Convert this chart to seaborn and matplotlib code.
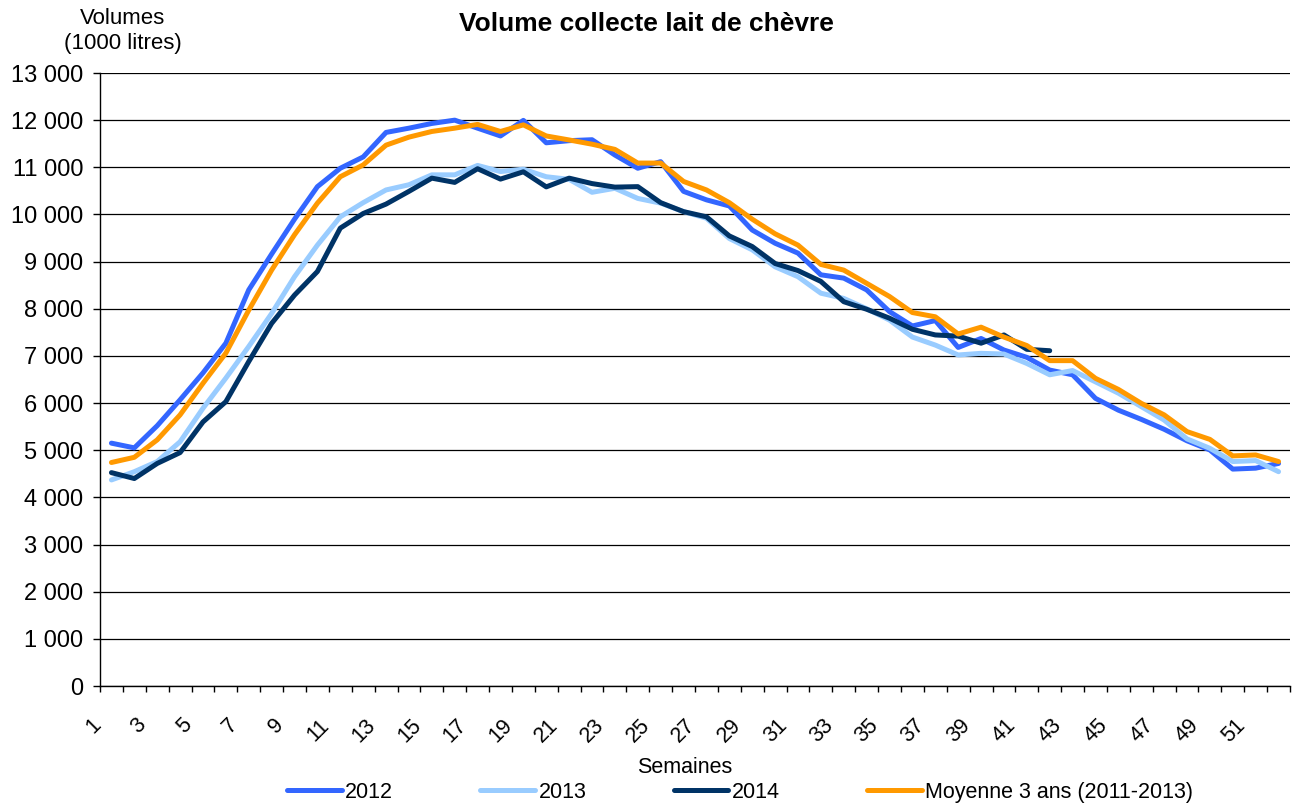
#!/usr/bin/env python3

import numpy as np
import pandas as pd
import matplotlib
matplotlib.use("Agg")
import matplotlib.pyplot as plt
import matplotlib.transforms as mtransforms
from matplotlib.lines import Line2D
from matplotlib.ticker import FixedLocator, FuncFormatter, NullFormatter
import seaborn as sns

# Weekly goat milk collection volumes (1000 litres)
weeks = list(range(1, 53))
vol_2012 = [5150, 5050, 5520, 6070, 6640, 7270, 8400, 9160, 9900, 10590,
            10980, 11220, 11740, 11830, 11930, 12000, 11830, 11665, 11995, 11520,
            11565, 11585, 11260, 10980, 11120, 10490, 10310, 10180, 9670, 9390,
            9180, 8720, 8650, 8400, 7940, 7635, 7750, 7180, 7370, 7125,
            6970, 6700, 6600, 6100, 5850, 5655, 5445, 5200, 5005, 4600,
            4620, 4720]
vol_2013 = [4370, 4545, 4760, 5180, 5890, 6530, 7200, 7900, 8680, 9350,
            9950, 10250, 10520, 10630, 10840, 10840, 11040, 10910, 10960, 10800,
            10745, 10470, 10555, 10340, 10240, 10060, 9920, 9490, 9250, 8890,
            8680, 8330, 8220, 8000, 7760, 7400, 7230, 7020, 7055, 7040,
            6840, 6600, 6690, 6450, 6210, 5925, 5640, 5240, 5040, 4760,
            4780, 4545]
vol_2014 = [4525, 4400, 4720, 4950, 5600, 6030, 6880, 7690, 8290, 8790,
            9710, 10020, 10220, 10490, 10770, 10680, 10970, 10750, 10905, 10585,
            10770, 10655, 10580, 10590, 10250, 10060, 9950, 9545, 9320, 8960,
            8810, 8580, 8150, 7990, 7800, 7565, 7445, 7420, 7270, 7445,
            7140, 7110]
vol_moyenne = [4740, 4850, 5220, 5750, 6420, 7060, 7970, 8820, 9570, 10240,
               10800, 11050, 11470, 11640, 11760, 11830, 11910, 11760, 11900, 11665,
               11580, 11490, 11380, 11090, 11090, 10700, 10520, 10250, 9900, 9590,
               9350, 8940, 8820, 8540, 8260, 7920, 7830, 7465, 7610, 7400,
               7220, 6900, 6900, 6525, 6290, 5995, 5750, 5395, 5230, 4880,
               4900, 4760]

series_names = ["2012", "2013", "2014", "Moyenne 3 ans (2011-2013)"]
series_colors = ["#3366FF", "#99CCFF", "#003366", "#FF9900"]
y_ticks = list(range(0, 13001, 1000))

rows = []
for name, vals in zip(series_names, [vol_2012, vol_2013, vol_2014, vol_moyenne]):
    for w, v in zip(weeks, vals):
        rows.append({"Semaine": w, "Volume": v, "Serie": name})
df = pd.DataFrame(rows)

sns.set_theme(style="white")
plt.rcParams["font.family"] = ["Liberation Sans", "DejaVu Sans"]
plt.rcParams["text.color"] = "black"

W, H = 1292, 805
fig = plt.figure(figsize=(W / 100, H / 100), dpi=100)
ax = fig.add_axes([100 / W, 1 - 686 / H, 1190 / W, 613 / H])

sns.lineplot(data=df, x="Semaine", y="Volume", hue="Serie",
             hue_order=series_names, palette=dict(zip(series_names, series_colors)),
             linewidth=3.6, legend=False, sort=False, ax=ax)
for ln in ax.lines:
    ln.set_solid_joinstyle("round")
    ln.set_solid_capstyle("round")

ax.set_xlim(0.5, 52.5)
ax.set_ylim(0, 13000)
ax.set_xlabel("")
ax.set_ylabel("")

# y axis
ax.yaxis.set_major_locator(FixedLocator(y_ticks))
ax.yaxis.set_major_formatter(FuncFormatter(lambda v, p: f"{int(v):,}".replace(",", " ")))
ax.grid(axis="y", color="black", lw=0.9)
ax.grid(axis="x", visible=False)
ax.tick_params(axis="y", direction="out", length=5, width=1, pad=7,
               labelsize=17, left=True, color="black", labelcolor="black")

# x axis: ticks at category boundaries, labels on odd weeks
ax.xaxis.set_major_locator(FixedLocator(np.arange(0.5, 53, 1)))
ax.xaxis.set_major_formatter(NullFormatter())
ax.xaxis.set_minor_locator(FixedLocator(weeks[::2]))
ax.xaxis.set_minor_formatter(FuncFormatter(lambda v, p: f"{int(round(v))}"))
ax.tick_params(axis="x", which="major", direction="out", length=4.5, width=1,
               bottom=True, color="black")
ax.tick_params(axis="x", which="minor", length=0, pad=26, labelsize=15.5,
               bottom=True, labelcolor="black")

shift = mtransforms.ScaledTranslation(-14 / 100, 0, fig.dpi_scale_trans)
for lab in ax.get_xticklabels(minor=True):
    lab.set_rotation(45)
    lab.set_ha("right")
    lab.set_va("center")
    lab.set_rotation_mode("anchor")
    lab.set_transform(lab.get_transform() + shift)

for side in ["top", "right"]:
    ax.spines[side].set_visible(False)
for side in ["left", "bottom"]:
    ax.spines[side].set_color("black")
    ax.spines[side].set_linewidth(1)

# texts
fig.text(646 / W, 1 - 24 / H, "Volume collecte lait de chèvre", ha="center",
         va="center", fontsize=19, fontweight="bold", color="black")
fig.text(123 / W, 1 - 31 / H, "Volumes\n(1000 litres)", ha="center",
         va="center", fontsize=16, linespacing=1.25, color="black")
fig.text(685 / W, 1 - 767 / H, "Semaines", ha="center", va="center",
         fontsize=15.5, color="black")

handles = [Line2D([], [], color=c, lw=3.6, solid_capstyle="round") for c in series_colors]
fig.legend(handles, series_names, loc="center", bbox_to_anchor=(740 / W, 1 - 792 / H),
           ncol=4, frameon=False, fontsize=15.5, handlelength=2.55,
           handletextpad=0.15, columnspacing=4.05, borderpad=0, borderaxespad=0,
           labelcolor="black")

fig.savefig("out.png", dpi=100)
